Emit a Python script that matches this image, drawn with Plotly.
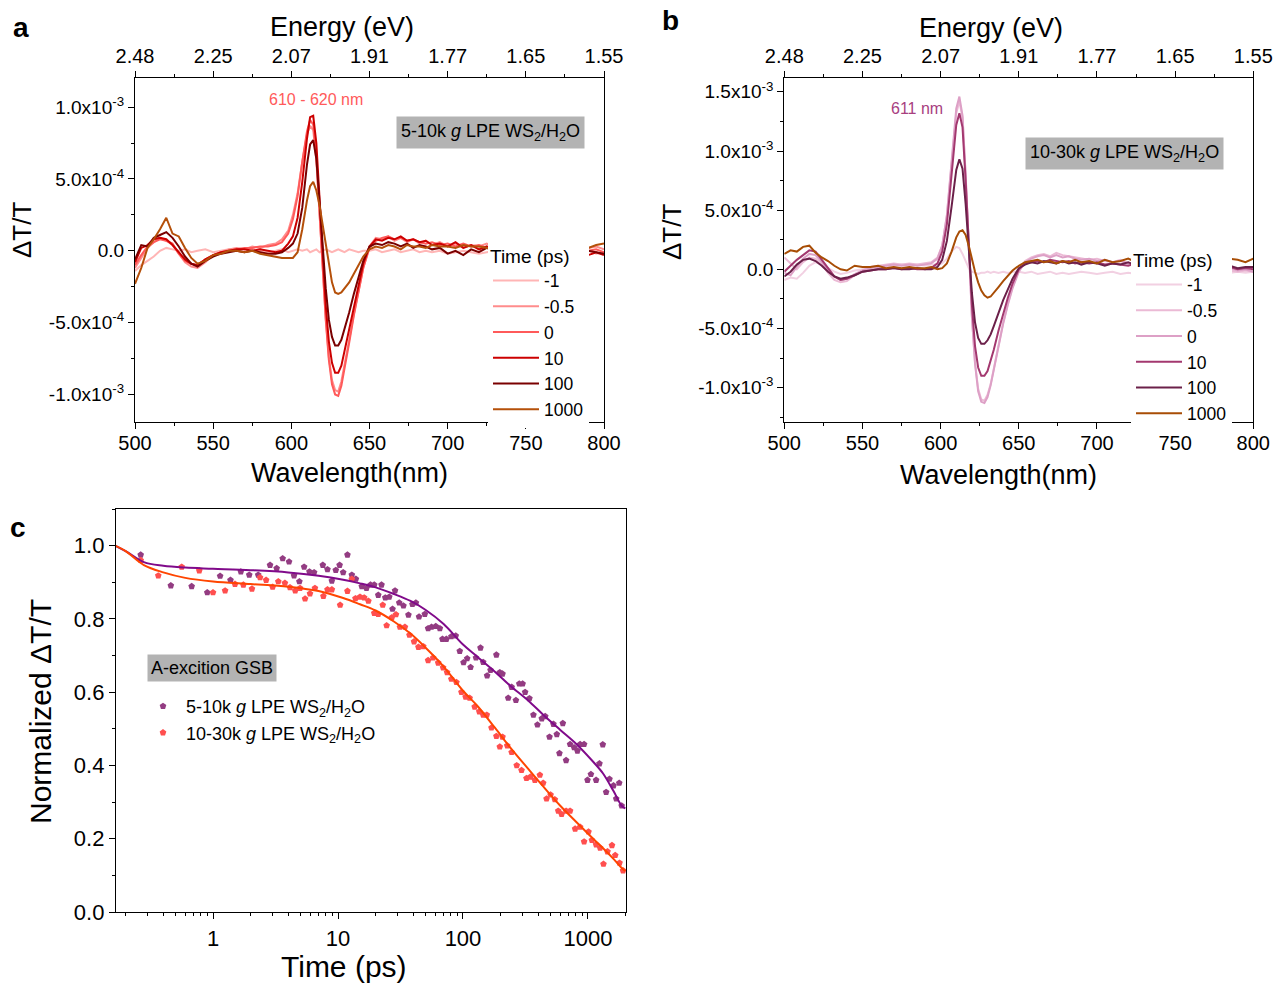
import numpy as np
import plotly.graph_objects as go

W, H = 1276, 983
def px(x): return x / W
def py(y): return 1 - y / H

# ---------------- Data: panels a & b (dT/T in units of 1e-4) ----------------
WL = [500, 504, 508, 512, 516, 520, 524, 528, 532, 536, 540,
      545, 550, 555, 560, 565, 570, 575, 580, 585, 590,
      594, 598, 601, 604, 607, 610,
      612, 614, 616, 618, 620, 622, 624, 626, 628, 630, 632, 634,
      637, 640, 643, 646,
      650, 654, 658, 662, 666, 670, 674, 678, 682, 686, 690,
      695, 700, 705, 710, 715, 720, 725, 730, 735, 740, 745, 750, 755, 760, 765, 770, 775, 780, 785, 790, 795, 800]
UNIT = 1e-4
DELAYS = ["-1", "-0.5", "0", "10", "100", "1000"]

A_m1 = [-1.4, -1.0, -0.7, -0.4, 0.0, 0.2, 0.1, 0.0, 0.1, -0.1, 0.0,
        0.1, -0.1, 0.0, 0.1, 0.0, -0.1, 0.1, 0.0, -0.1, 0.0,
        0.1, -0.1, 0.0, 0.1, 0.0, 0.1,
        -0.1, 0.0, 0.1, -0.1, 0.0, 0.1, 0.0, -0.1, 0.0, 0.1, 0.0, -0.1,
        0.1, 0.0, -0.1, 0.0,
        0.0, 0.1, -0.1, 0.0, 0.1, -0.1, 0.0, 0.1, -0.1, 0.0, -0.1,
        0.0, -0.2, -0.1, 0.0, -0.1, -0.2, -0.1, 0.0, -0.1, -0.2, -0.1, 0.0, -0.1, -0.2, -0.1, 0.0, -0.1, -0.2, -0.1, 0.0, -0.2, -0.1]
A_m05 = [-1.2, -0.5, 0.2, 0.6, 0.9, 0.7, 0.4, -0.2, -0.8, -1.1, -1.2,
         -0.8, -0.3, -0.1, 0.1, 0.2, 0.1, 0.3, 0.2, 0.4, 0.5,
         0.8, 1.4, 2.5, 4.0, 6.2, 8.1,
         8.7, 8.4, 6.3, 2.4, -1.5, -4.7, -7.4, -9.0, -9.7, -9.8, -9.1, -8.0,
         -6.2, -4.4, -2.7, -1.2,
         0.3, 0.9, 0.8, 1.0, 0.7, 0.9, 0.6, 0.8, 0.5, 0.7, 0.4,
         0.6, 0.3, 0.5, 0.2, 0.4, 0.3, 0.5, 0.2, 0.3, 0.1, 0.3, 0.2, 0.4, 0.1, 0.3, 0.2, 0.4, 0.1, 0.3, 0.2, 0.3, 0.1]
A_0 = [-1.0, -0.3, 0.3, 0.6, 0.8, 0.7, 0.5, -0.2, -0.7, -0.9, -1.0,
       -0.6, -0.3, -0.1, 0.0, 0.1, 0.2, 0.2, 0.3, 0.3, 0.4,
       0.6, 1.2, 2.2, 3.8, 6.2, 8.3,
       9.1, 8.8, 6.5, 2.5, -1.5, -4.8, -7.6, -9.3, -10.0, -10.1, -9.4, -8.3,
       -6.4, -4.5, -2.8, -1.2,
       0.2, 0.7, 0.9, 1.0, 0.8, 0.9, 0.7, 0.8, 0.6, 0.5, 0.6,
       0.4, 0.5, 0.3, 0.5, 0.3, 0.4, 0.2, 0.3, 0.2, 0.4, 0.1, 0.3, 0.2, 0.3, 0.1, 0.2, 0.3, 0.1, 0.2, 0.0, 0.1, -0.1]
A_10 = [-0.8, 0.2, 0.4, 0.8, 0.9, 0.8, 0.4, -0.1, -0.6, -0.9, -1.0,
        -0.6, -0.3, -0.1, 0.0, 0.1, 0.1, 0.0, 0.1, 0.0, -0.1,
        0.0, 0.5, 1.0, 2.3, 4.8, 7.8,
        9.3, 9.4, 7.5, 3.5, -0.5, -3.8, -6.3, -7.8, -8.5, -8.5, -8.0, -7.0,
        -5.4, -3.8, -2.3, -0.9,
        0.3, 0.8, 0.7, 0.9, 0.8, 1.0, 0.7, 0.8, 0.6, 0.7, 0.4,
        0.5, 0.3, 0.6, 0.2, 0.4, 0.1, 0.3, 0.0, 0.2, 0.1, -0.1, 0.2, 0.0, 0.3, 0.1, -0.2, 0.1, 0.0, -0.2, -0.3, -0.1, -0.3]
A_100 = [-0.6, 0.4, 0.3, 0.9, 1.1, 1.3, 0.9, 0.3, -0.4, -0.9, -1.1,
         -0.7, -0.4, -0.2, -0.1, 0.0, -0.1, 0.0, -0.1, -0.2, -0.2,
         -0.1, 0.2, 0.5, 1.2, 3.0, 6.0,
         7.4, 7.7, 6.4, 3.5, 0.3, -2.6, -4.8, -6.0, -6.6, -6.6, -6.2, -5.5,
         -4.3, -3.0, -1.8, -0.7,
         0.3, 0.5, 0.4, 0.6, 0.5, 0.3, 0.5, 0.2, 0.4, 0.3, 0.1,
         0.2, -0.2, 0.0, -0.3, 0.1, -0.1, 0.2, 0.0, 0.3, 0.1, -0.1, 0.2, 0.0, -0.2, 0.1, 0.0, -0.1, 0.1, -0.2, 0.0, -0.1, -0.2]
A_1000 = [-2.3, -1.2, 0.2, 0.8, 1.5, 2.3, 1.2, 1.0, 0.2, -0.5, -0.9,
          -0.7, -0.3, -0.2, 0.0, 0.0, -0.1, 0.0, -0.2, -0.3, -0.4,
          -0.5, -0.5, -0.5, -0.1, 1.5, 3.5,
          4.5, 4.8, 4.2, 3.2, 1.8, 0.3, -1.0, -2.2, -2.9, -3.0, -2.9, -2.6,
          -2.2, -1.6, -1.0, -0.4,
          0.1, 0.3, 0.2, 0.4, 0.3, 0.1, 0.4, 0.3, 0.3, 0.2, 0.4,
          0.3, 0.3, 0.2, 0.4, 0.3, 0.3, 0.2, 0.1, 0.3, 0.4, 0.2, 0.3, 0.5, 0.3, 0.4, 0.2, 0.3, 0.5, 0.3, 0.2, 0.4, 0.5]

B_m1 = [-0.9, -0.7, -0.8, -0.3, 0.3, 0.6, 0.4, 0.1, -0.2, -0.4, -0.3,
        -0.1, 0.0, 0.1, 0.2, 0.3, 0.3, 0.4, 0.3, 0.4, 0.3,
        0.4, 0.4, 0.5, 0.9, 1.5, 1.9,
        1.8, 1.3, 0.7, 0.1, -0.2, -0.3, -0.4, -0.3, -0.3, -0.2, -0.3, -0.2,
        -0.3, -0.2, -0.3, -0.2,
        -0.2, -0.3, -0.2, -0.4, -0.3, -0.2, -0.4, -0.3, -0.4, -0.3, -0.2,
        -0.3, -0.4, -0.3, -0.2, -0.4, -0.3, -0.4, -0.5, -0.3, -0.4, -0.3, -0.4, -0.5, -0.3, -0.4, -0.3, -0.2, -0.4, -0.3, -0.2, -0.3, -0.2]
B_m05 = [1.0, 0.5, 0.0, 0.6, 1.0, 0.9, 0.4, -0.3, -0.9, -1.1, -1.0,
         -0.5, -0.1, 0.2, 0.3, 0.4, 0.5, 0.4, 0.5, 0.4, 0.5,
         0.6, 1.0, 2.0, 4.5, 8.8, 13.2,
         14.2, 12.8, 7.9, 1.5, -4.0, -7.9, -10.1, -11.0, -11.1, -10.6, -9.7, -8.4,
         -6.4, -4.5, -2.9, -1.5,
         -0.1, 0.7, 1.0, 1.2, 1.3, 1.1, 1.4, 1.2, 1.1, 1.0, 0.9,
         0.8, 0.9, 0.7, 0.6, 0.8, 0.5, 0.6, 0.4, 0.5, 0.3, 0.4, 0.5, 0.2, 0.3, 0.1, 0.2, 0.0, 0.1, -0.1, -0.2, -0.1, -0.2]
B_0 = [-0.3, -0.5, 0.2, 0.9, 1.3, 1.2, 0.6, -0.1, -0.6, -0.9, -0.8,
       -0.4, -0.1, 0.1, 0.2, 0.3, 0.4, 0.3, 0.4, 0.3, 0.4,
       0.5, 0.9, 2.0, 4.6, 9.1, 13.6,
       14.6, 13.0, 8.0, 1.5, -4.0, -8.0, -10.3, -11.2, -11.3, -10.8, -9.8, -8.5,
       -6.5, -4.6, -3.0, -1.6,
       -0.2, 0.6, 0.9, 1.1, 1.2, 1.0, 1.2, 1.0, 1.1, 0.9, 0.8,
       0.9, 0.7, 0.8, 0.6, 0.7, 0.5, 0.6, 0.5, 0.4, 0.5, 0.3, 0.4, 0.2, 0.3, 0.1, 0.2, 0.1, 0.0, 0.1, -0.1, 0.0, -0.2]
B_10 = [-0.2, 0.3, 0.8, 1.2, 1.6, 1.5, 0.8, 0.0, -0.6, -0.9, -0.8,
        -0.5, -0.2, -0.1, 0.0, 0.0, 0.1, 0.0, 0.1, 0.0, 0.0,
        0.1, 0.5, 1.5, 3.8, 8.0, 12.2,
        13.2, 12.0, 7.5, 1.8, -3.0, -6.5, -8.3, -9.0, -9.0, -8.6, -7.8, -6.8,
        -5.2, -3.7, -2.4, -1.2,
        0.0, 0.5, 0.6, 0.7, 0.6, 0.8, 0.7, 0.6, 0.7, 0.5, 0.6,
        0.5, 0.6, 0.4, 0.5, 0.4, 0.3, 0.5, 0.3, 0.4, 0.2, 0.3, 0.4, 0.2, 0.3, 0.1, 0.2, 0.3, 0.1, 0.2, 0.0, 0.1, 0.0]
B_100 = [-0.6, -0.2, 0.4, 0.8, 0.9, 0.7, 0.3, -0.2, -0.6, -0.8, -0.7,
         -0.5, -0.2, -0.1, 0.0, 0.0, 0.1, 0.0, 0.0, 0.1, 0.0,
         0.0, 0.2, 0.8, 2.4, 5.3, 8.4,
         9.3, 8.5, 5.5, 1.5, -2.0, -4.5, -5.8, -6.3, -6.3, -6.0, -5.5, -4.8,
         -3.7, -2.6, -1.7, -0.8,
         0.1, 0.4, 0.6, 0.5, 0.7, 0.6, 0.5, 0.7, 0.5, 0.6, 0.4,
         0.6, 0.5, 0.3, 0.5, 0.4, 0.6, 0.3, 0.4, 0.5, 0.3, 0.4, 0.2, 0.4, 0.3, 0.2, 0.4, 0.3, 0.2, 0.3, 0.1, 0.2, 0.2]
B_1000 = [1.3, 1.6, 1.5, 1.9, 2.0, 1.4, 1.0, 0.7, 0.3, 0.0, -0.1,
          0.3, 0.2, 0.2, 0.3, 0.1, 0.2, 0.1, 0.2, 0.1, 0.1,
          0.2, 0.0, 0.1, 0.5, 1.5, 2.7,
          3.2, 3.3, 2.9, 2.0, 0.8, -0.2, -1.1, -1.8, -2.2, -2.4, -2.3, -2.0,
          -1.5, -1.0, -0.5, -0.1,
          0.3, 0.6, 0.7, 0.8, 0.6, 0.7, 0.5, 0.7, 0.6, 0.8, 0.6,
          0.7, 0.5, 0.8, 0.6, 0.7, 0.9, 0.6, 0.7, 0.5, 0.6, 0.4, 0.5, 0.6, 0.8, 0.7, 0.9, 0.8, 0.7, 0.9, 0.8, 0.6, 0.9]

COLORS_A = ["#FFB5B5", "#FF8C8C", "#FF5A5A", "#CC0000", "#7A0000", "#B5500A"]
COLORS_B = ["#F2D0E2", "#EBBAD5", "#DDA0C6", "#A3386F", "#6B2049", "#A84D05"]

# ---------------- Data: panel c ----------------
T_510 = [0.264, 0.46, 0.675, 0.90, 1.14, 1.38, 1.67, 1.95, 2.30, 2.86, 3.23, 3.61, 4.06, 4.45, 4.91, 5.36, 5.91, 6.44, 7.56, 8.24,
         8.93, 9.6, 10.3, 11.0, 11.9, 12.9, 13.9, 15.5, 16.9, 18.2, 19.5, 21.0, 22.3, 23.9, 25.7, 27.3, 28.6, 30.9, 33.4, 36.6,
         39.4, 42.0, 44.5, 49.5, 52.6, 56.0, 60.6, 65.3, 68.5, 73.6, 80.7, 87.5, 94.2, 101, 108, 115, 127, 138, 145, 156,
         166, 185, 197, 207, 230, 245, 265, 282, 300, 314, 340, 366, 394, 427, 455, 492, 529, 563, 591, 629,
         668, 719, 774, 823, 865, 931, 991, 1055, 1161, 1235, 1313, 1397, 1485, 1600, 1682, 1778, 1860]
V_510 = [0.975, 0.891, 0.889, 0.872, 0.917, 0.906, 0.929, 0.920, 0.920, 0.947, 0.938, 0.965, 0.956, 0.918, 0.902, 0.942, 0.929, 0.927, 0.947, 0.935,
         0.904, 0.933, 0.947, 0.927, 0.975, 0.920, 0.909, 0.889, 0.884, 0.893, 0.893, 0.865, 0.893, 0.858, 0.860, 0.827, 0.877, 0.844, 0.836, 0.811,
         0.840, 0.844, 0.806, 0.813, 0.774, 0.778, 0.780, 0.774, 0.745, 0.745, 0.752, 0.754, 0.712, 0.681, 0.692, 0.668, 0.694, 0.721, 0.682, 0.645,
         0.660, 0.702, 0.654, 0.650, 0.584, 0.614, 0.578, 0.623, 0.623, 0.600, 0.583, 0.538, 0.511, 0.528, 0.534, 0.478, 0.513, 0.485, 0.433, 0.515,
         0.414, 0.458, 0.449, 0.440, 0.458, 0.458, 0.360, 0.376, 0.360, 0.405, 0.457, 0.327, 0.363, 0.345, 0.309, 0.352, 0.290]
T_1030 = [0.264, 0.365, 0.562, 0.777, 1.0, 1.25, 1.50, 1.75, 2.05, 2.38, 2.66, 3.0, 3.33, 3.76, 4.13, 4.55, 4.97, 5.45, 5.97, 6.54,
          7.64, 8.24, 8.93, 10.4, 11.9, 12.9, 13.8, 15.0, 16.2, 17.5, 19.5, 21.0, 22.8, 24.5, 27.0, 29.1, 31.3, 34.3, 37.3, 40.6,
          44.0, 48.1, 52.6, 57.7, 63.3, 69.3, 74.6, 80.7, 88.6, 97.2, 105, 113, 124, 135, 145, 155, 169, 185, 197, 207,
          226, 245, 269, 294, 322, 347, 376, 412, 438, 466, 502, 543, 578, 615, 668, 719, 789, 865, 931, 1009,
          1074, 1161, 1250, 1330, 1432, 1555, 1652, 1788, 1908]
V_1030 = [0.96, 0.918, 0.942, 0.932, 0.872, 0.877, 0.895, 0.893, 0.882, 0.913, 0.906, 0.887, 0.902, 0.898, 0.886, 0.877, 0.884, 0.855, 0.869, 0.884,
          0.862, 0.880, 0.880, 0.838, 0.876, 0.909, 0.856, 0.860, 0.858, 0.849, 0.816, 0.813, 0.838, 0.782, 0.804, 0.812, 0.778, 0.778, 0.756, 0.738,
          0.723, 0.725, 0.687, 0.694, 0.680, 0.667, 0.654, 0.636, 0.627, 0.600, 0.587, 0.584, 0.560, 0.547, 0.538, 0.538, 0.503, 0.480, 0.451, 0.478,
          0.454, 0.436, 0.400, 0.387, 0.365, 0.369, 0.360, 0.374, 0.352, 0.309, 0.320, 0.307, 0.276, 0.267, 0.276, 0.276, 0.227, 0.232, 0.192, 0.219,
          0.196, 0.184, 0.175, 0.131, 0.165, 0.182, 0.155, 0.134, 0.113]
TF = [0.165, 0.2, 0.28, 0.4, 0.6, 1, 2, 4, 7, 11, 15, 20, 28, 38, 50, 70, 100, 130, 180, 240, 330, 440, 600, 810, 1100, 1320, 1600, 1860, 1990]
FIT_510 = [1.0, 0.985, 0.955, 0.945, 0.94, 0.937, 0.933, 0.927, 0.918, 0.907, 0.897, 0.886, 0.868, 0.849, 0.825, 0.786, 0.73, 0.697, 0.656,
           0.617, 0.578, 0.538, 0.497, 0.458, 0.41, 0.378, 0.33, 0.29, 0.283]
FIT_1030 = [1.0, 0.985, 0.947, 0.927, 0.912, 0.902, 0.895, 0.888, 0.876, 0.857, 0.84, 0.823, 0.793, 0.76, 0.722, 0.67, 0.604, 0.563, 0.503,
            0.448, 0.392, 0.342, 0.29, 0.245, 0.2, 0.174, 0.145, 0.12, 0.112]

LBL_510 = "5-10k <i>g</i> LPE WS<sub>2</sub>/H<sub>2</sub>O"
LBL_1030 = "10-30k <i>g</i> LPE WS<sub>2</sub>/H<sub>2</sub>O"

E_TICKS_WL = [500, 550, 600, 650, 700, 750, 800]
E_TICKS_TXT = ["2.48", "2.25", "2.07", "1.91", "1.77", "1.65", "1.55"]

FONT = "Liberation Sans, Arial, sans-serif"

fig = go.Figure()

for vals, name, col in zip([A_m1, A_m05, A_0, A_10, A_100, A_1000], DELAYS, COLORS_A):
    fig.add_trace(go.Scatter(x=WL, y=np.array(vals) * UNIT, mode="lines", name=name,
                             line=dict(color=col, width=2), xaxis="x", yaxis="y", legend="legend"))
for vals, name, col in zip([B_m1, B_m05, B_0, B_10, B_100, B_1000], DELAYS, COLORS_B):
    fig.add_trace(go.Scatter(x=WL, y=np.array(vals) * UNIT, mode="lines", name=name,
                             line=dict(color=col, width=2), xaxis="x3", yaxis="y3", legend="legend2"))

# invisible traces so the top (energy) axes are drawn
fig.add_trace(go.Scatter(x=[500, 800], y=[0, 0], mode="lines", line=dict(width=0), showlegend=False,
                         hoverinfo="skip", xaxis="x2", yaxis="y", opacity=0))
fig.add_trace(go.Scatter(x=[500, 800], y=[0, 0], mode="lines", line=dict(width=0), showlegend=False,
                         hoverinfo="skip", xaxis="x4", yaxis="y3", opacity=0))

# panel c
fig.add_trace(go.Scatter(x=T_510, y=V_510, mode="markers", name=LBL_510,
                         marker=dict(symbol="pentagon", size=7, color="#933C82"),
                         xaxis="x5", yaxis="y5", legend="legend3"))
fig.add_trace(go.Scatter(x=T_1030, y=V_1030, mode="markers", name=LBL_1030,
                         marker=dict(symbol="pentagon", size=7, color="#FF4F4F"),
                         xaxis="x5", yaxis="y5", legend="legend3"))
fig.add_trace(go.Scatter(x=TF, y=FIT_510, mode="lines", line=dict(color="#800A8A", width=2, shape="spline"),
                         showlegend=False, xaxis="x5", yaxis="y5"))
fig.add_trace(go.Scatter(x=TF, y=FIT_1030, mode="lines", line=dict(color="#FF4500", width=2, shape="spline"),
                         showlegend=False, xaxis="x5", yaxis="y5"))

tickfont = dict(family=FONT, size=20, color="black")
axline = dict(showline=True, linecolor="black", linewidth=1.3, showgrid=False, zeroline=False,
              ticks="outside", ticklen=6, tickwidth=1.3, tickcolor="black", automargin=False)
MINOR = dict(ticks="outside", ticklen=3, tickwidth=1.2, tickcolor="black")

def wl_axis(dom, anchor):
    return dict(domain=dom, anchor=anchor, range=[500, 800], tickvals=E_TICKS_WL, tickfont=tickfont,
                ticklabelstandoff=-3, minor=dict(MINOR, dtick=25, tick0=500), **axline)

def top_axis(over, anchor):
    return dict(overlaying=over, anchor=anchor, side="top", range=[500, 800], tickvals=E_TICKS_WL,
                ticktext=E_TICKS_TXT, tickfont=tickfont, minor=dict(MINOR, dtick=25, tick0=500), **axline)

SUP = {-1.0e-3: "-1.0x10<sup>-3</sup>", -5e-4: "-5.0x10<sup>-4</sup>", 0.0: "0.0",
       5e-4: "5.0x10<sup>-4</sup>", 1e-3: "1.0x10<sup>-3</sup>", 1.5e-3: "1.5x10<sup>-3</sup>"}
YT_A = [-1.0e-3, -5e-4, 0.0, 5e-4, 1e-3]
YT_B = [-1.0e-3, -5e-4, 0.0, 5e-4, 1e-3, 1.5e-3]

dom_ya = [py(421.7), py(78)]
C_MINOR = [0.2, 0.3, 0.4, 0.5, 0.6, 0.7, 0.8, 0.9, 2, 3, 4, 5, 6, 7, 8, 9, 20, 30, 40, 50, 60, 70, 80, 90,
           200, 300, 400, 500, 600, 700, 800, 900, 2000]

LEG_FONT = dict(family=FONT, size=17.5, color="black")
LEG_TITLE = dict(text="Time (ps)", font=dict(family=FONT, size=19, color="black"))

fig.update_layout(
    width=W, height=H, margin=dict(l=0, r=0, t=0, b=0, autoexpand=False),
    paper_bgcolor="white", plot_bgcolor="white",
    font=dict(family=FONT, color="black"),
    xaxis=wl_axis([px(135), px(604)], "y"),
    xaxis2=top_axis("x", "y"),
    yaxis=dict(domain=dom_ya, anchor="x", range=[-1.19e-3, 1.203e-3], tickvals=YT_A,
               ticktext=[SUP[v] for v in YT_A], tickfont=dict(family=FONT, size=19, color="black"), mirror=True,
               minor=dict(MINOR, dtick=2.5e-4, tick0=0), **axline),
    xaxis3=wl_axis([px(784.3), px(1253.3)], "y3"),
    xaxis4=top_axis("x3", "y3"),
    yaxis3=dict(domain=dom_ya, anchor="x3", range=[-1.288e-3, 1.617e-3], tickvals=YT_B,
                ticktext=[SUP[v] for v in YT_B], tickfont=dict(family=FONT, size=19, color="black"), mirror=True,
                minor=dict(MINOR, dtick=2.5e-4, tick0=0), **axline),
    xaxis5=dict(domain=[px(116), px(626)], anchor="y5", type="log", range=[np.log10(0.1675), np.log10(2014)],
                tickvals=[1, 10, 100, 1000], ticktext=["1", "10", "100", "1000"],
                tickfont=dict(family=FONT, size=22, color="black"), mirror=True,
                minor=dict(MINOR, tickvals=C_MINOR), **axline),
    yaxis5=dict(domain=[py(912), py(509)], anchor="x5", range=[0, 1.1], tickvals=[0, 0.2, 0.4, 0.6, 0.8, 1.0],
                ticktext=["0.0", "0.2", "0.4", "0.6", "0.8", "1.0"],
                tickfont=dict(family=FONT, size=22, color="black"), mirror=True,
                minor=dict(MINOR, dtick=0.1, tick0=0), **axline),
    legend=dict(x=px(488), y=py(238), xanchor="left", yanchor="top", bgcolor="white",
                title=LEG_TITLE, font=LEG_FONT, itemwidth=46, tracegroupgap=0, borderwidth=0),
    legend2=dict(x=px(1131), y=py(242), xanchor="left", yanchor="top", bgcolor="white",
                 title=LEG_TITLE, font=LEG_FONT, itemwidth=46, tracegroupgap=0, borderwidth=0),
    legend3=dict(x=px(140), y=py(688), xanchor="left", yanchor="top", bgcolor="rgba(0,0,0,0)",
                 font=dict(family=FONT, size=18, color="black"), itemwidth=36, tracegroupgap=0),
)

ann = []
def text(x, y, s, size, **kw):
    d = dict(x=px(x), y=py(y), xref="paper", yref="paper", text=s, showarrow=False,
             xanchor="center", yanchor="middle", font=dict(family=FONT, size=size, color=kw.pop("color", "black")))
    d.update(kw)
    ann.append(d)

text(21, 27, "<b>a</b>", 28)
text(670, 20, "<b>b</b>", 28)
text(18, 527, "<b>c</b>", 28)
text(342, 27, "Energy (eV)", 27)
text(991, 28, "Energy (eV)", 27)
text(349, 473, "Wavelength(nm)", 27)
text(998, 475, "Wavelength(nm)", 27)
text(22, 230, "ΔT/T", 26, textangle=-90)
text(672, 232, "ΔT/T", 26, textangle=-90)
text(40, 712, "Normalized ΔT/T", 30, textangle=-90)
text(344, 966, "Time (ps)", 30)
text(316, 100, "610 - 620 nm", 16, color="#FF5A5A")
text(917, 109, "611 nm", 16, color="#A8407F")
text(490, 132, LBL_510, 18, bgcolor="#B3B3B3", borderpad=4)
text(1124, 153, LBL_1030, 18, bgcolor="#B3B3B3", borderpad=4)
text(212, 668, "A-excition GSB", 18, bgcolor="#B3B3B3", borderpad=3)
fig.update_layout(annotations=ann)

fig.write_html("out.html", config={"displayModeBar": False},
               post_script="document.body.style.margin='0';")
